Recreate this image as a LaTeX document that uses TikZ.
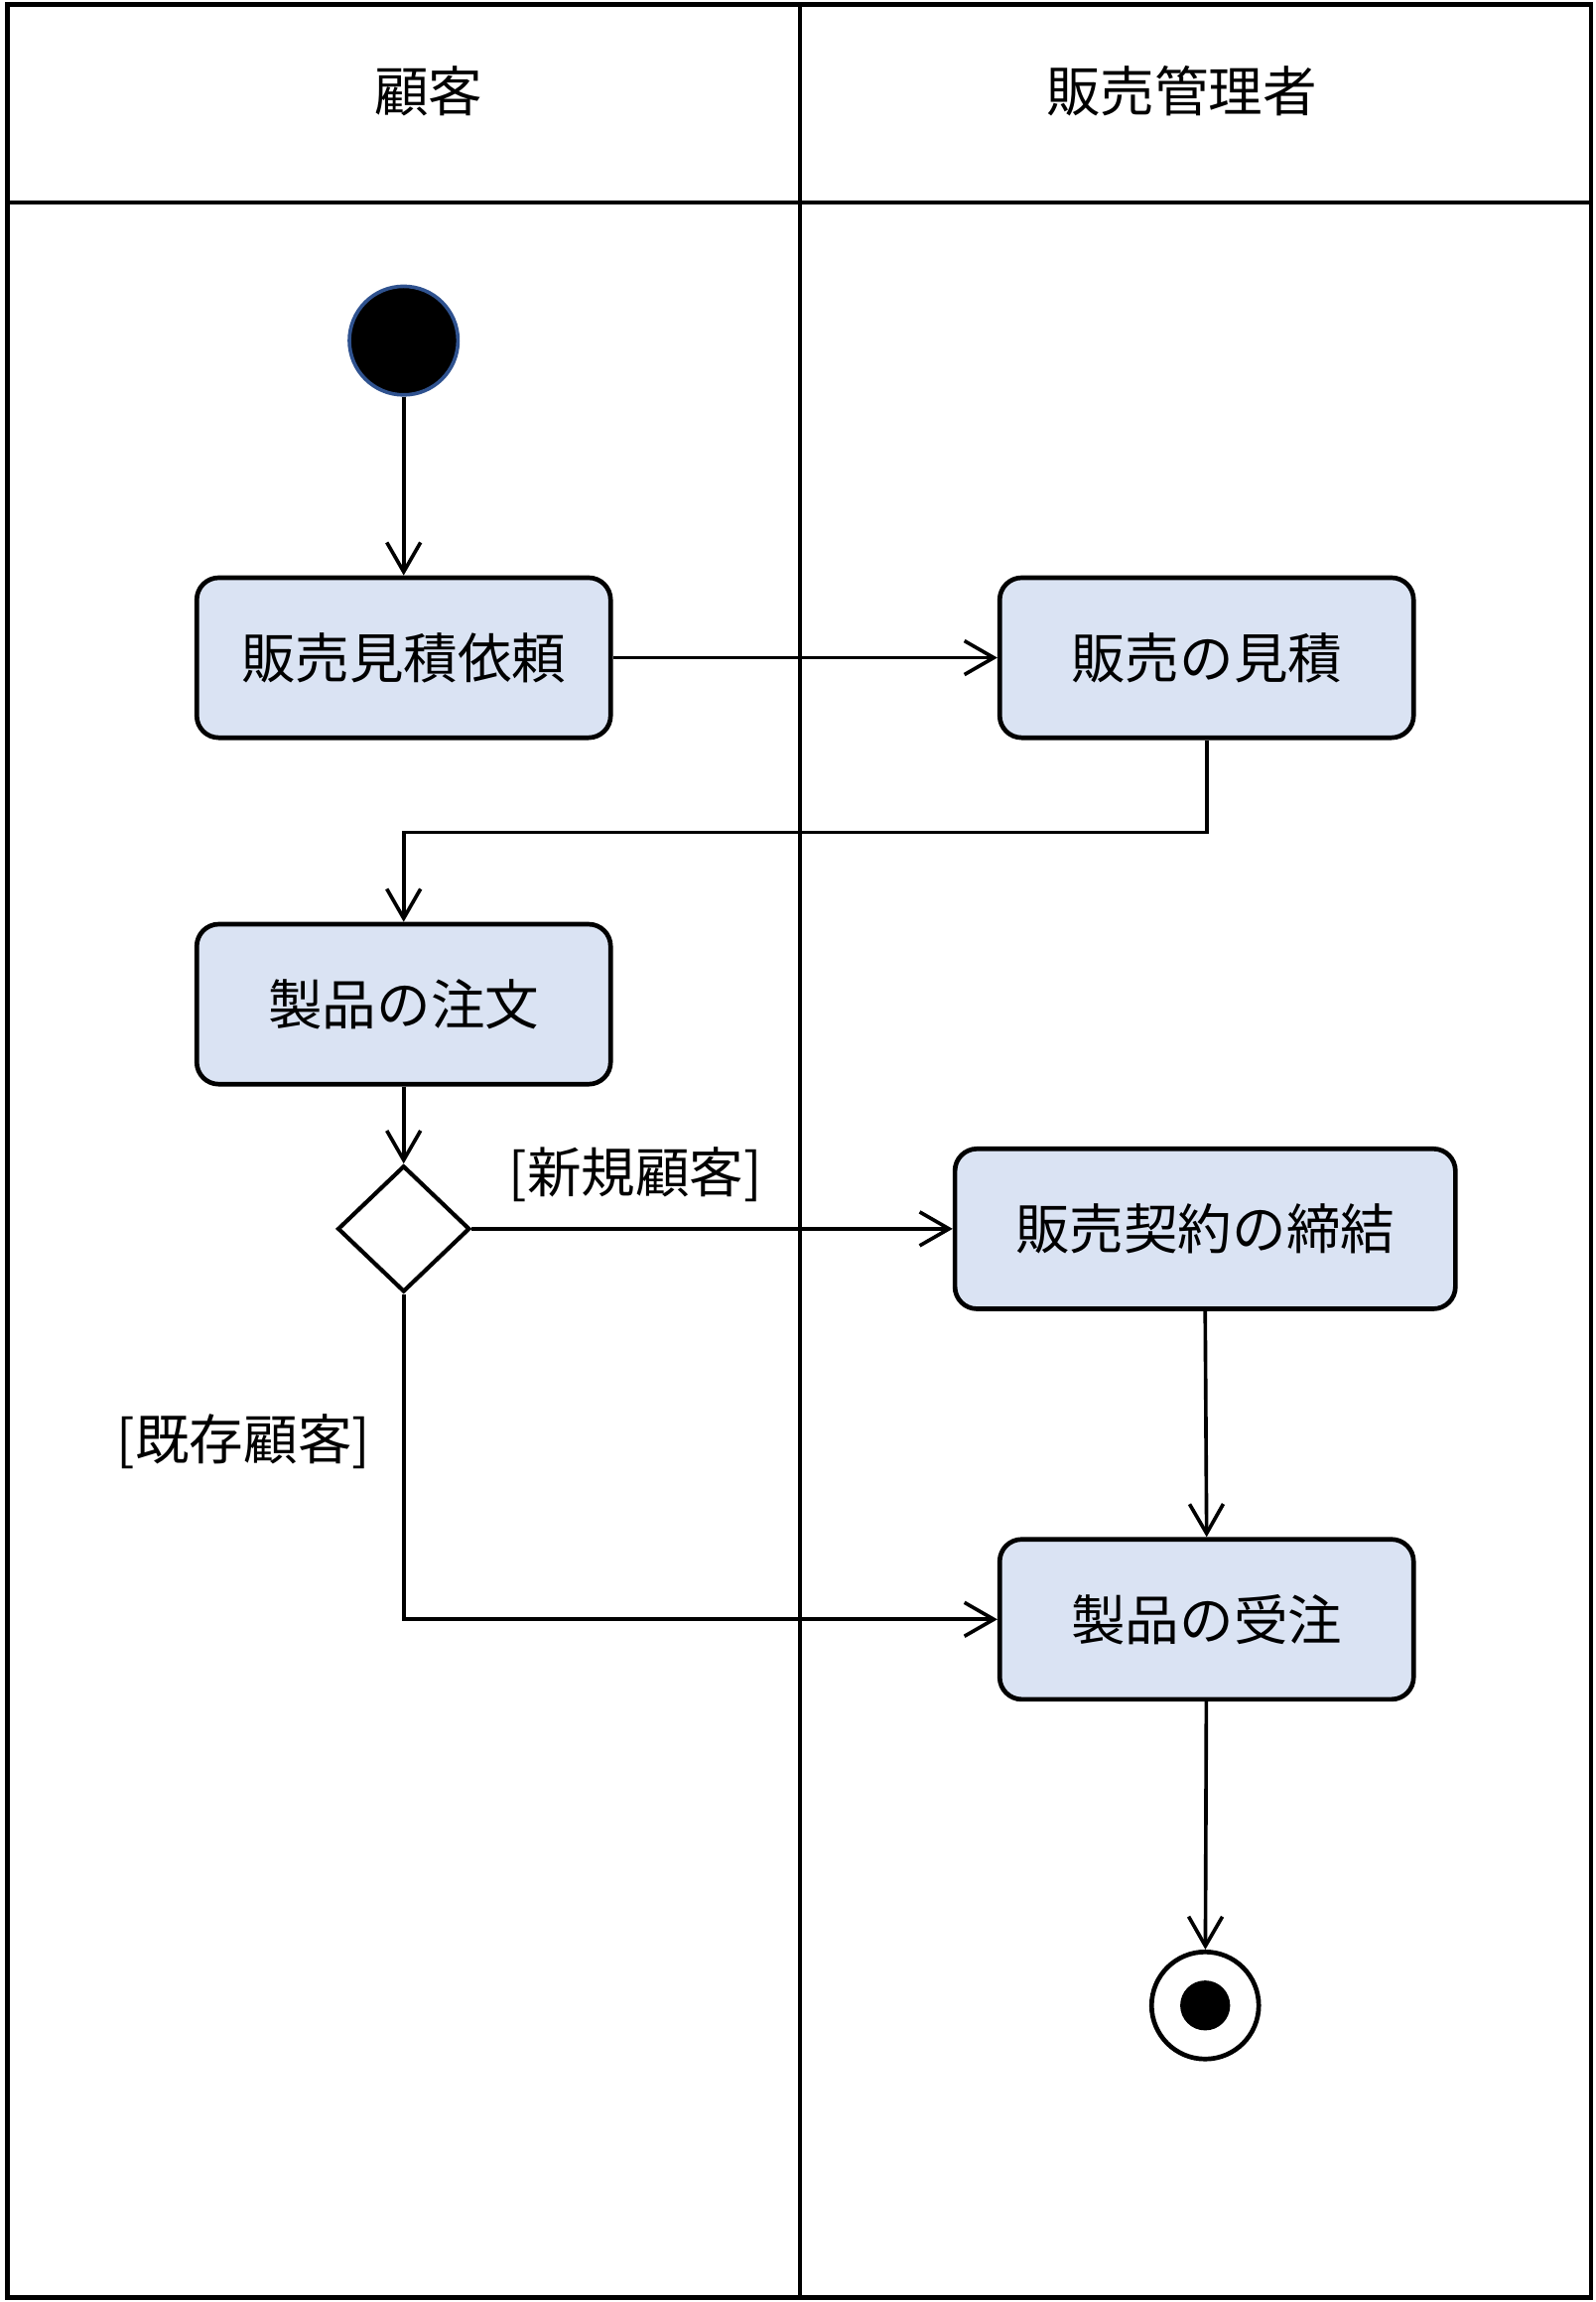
\documentclass[tikz,border=0pt]{standalone}
\usepackage{fontspec}
\newfontfamily\jpfont{Noto Sans CJK JP}
\usetikzlibrary{arrows.meta,shapes.geometric}
\definecolor{actfill}{HTML}{DAE3F3}
\definecolor{startline}{HTML}{2F528F}
\tikzset{
	jptext/.style={font=\jpfont\fontsize{21}{25}\selectfont},
	lane/.style={line width=1.7pt},
	act/.style={draw, line width=1.8pt, rounded corners=0.3cm, fill=actfill, minimum width=5.64cm, minimum height=2.18cm, jptext},
	flow/.style={line width=1.4pt, -{Straight Barb[length=0.4cm,width=0.46cm]}},
	initial/.style={circle, draw=startline, line width=1.4pt, fill=black, minimum size=1.48cm, inner sep=0pt},
	final/.style={circle, draw, line width=1.8pt, fill=white, minimum size=1.46cm, inner sep=0pt},
	decision/.style={diamond, draw, line width=1.6pt, fill=white, minimum width=1.8cm, minimum height=1.72cm, inner sep=0pt},
}

\begin{document}
\begin{tikzpicture}[x=0.02cm, y=-0.02cm]
			%%%%% START %%%%%
			\useasboundingbox (0, 0) rectangle (1087, 1568);
			
			% lanes
			\draw[lane] (5, 3) rectangle (1084, 1565);
			\draw[lane] (5, 138) -- (1084, 138);
			\draw[lane] (545, 3) -- (545, 1565);
			\node[jptext] (lanecust) at (292, 62) {顧客};
			\node[jptext] (lanesales) at (805, 62) {販売管理者};
			
			% nodes
			\node[initial] (start) at (275, 232) {};
			\node[act] (request) at (275, 448) {販売見積依頼};
			\node[act] (estimate) at (822, 448) {販売の見積};
			\node[act] (order) at (275, 684) {製品の注文};
			\node[decision] (check) at (275, 837) {};
			\node[act, minimum width=6.82cm] (contract) at (821, 837) {販売契約の締結};
			\node[act] (receive) at (822, 1103) {製品の受注};
			\node[final] (finish) at (821, 1366) {};
			\fill (finish) circle (0.34cm);
			
			\node[jptext] (newcust) at (433, 800) {[新規顧客]};
			\node[jptext] (oldcust) at (166, 982) {[既存顧客]};
			
			% flows
			\draw[flow] (start) -- (request);
			\draw[flow] (request) -- (estimate);
			\draw[flow] (estimate.south) -- ++(0, 63) -| (order.north);
			\draw[flow] (order) -- (check);
			\draw[flow] (check) -- (contract);
			\draw[flow] (check.south) |- (receive.west);
			\draw[flow] (contract.south) -- (receive.north);
			\draw[flow] (receive) -- (finish);
			
			%%%%% END %%%%%
\end{tikzpicture}
\end{document}
